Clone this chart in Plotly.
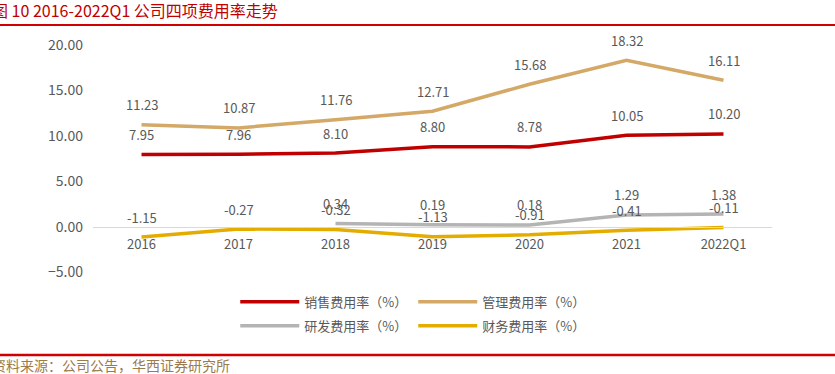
import plotly.graph_objects as go

categories = ["2016", "2017", "2018", "2019", "2020", "2021", "2022Q1"]
sales = [7.95, 7.96, 8.10, 8.80, 8.78, 10.05, 10.20]
management = [11.23, 10.87, 11.76, 12.71, 15.68, 18.32, 16.11]
rnd = [None, None, 0.34, 0.19, 0.18, 1.29, 1.38]
finance = [-1.15, -0.27, -0.32, -1.13, -0.91, -0.41, -0.11]

names = ["销售费用率（%）", "管理费用率（%）", "研发费用率（%）", "财务费用率（%）"]
colors = ["#C00000", "#D4A866", "#B4B4B4", "#E5AC00"]
legends = ["legend", "legend", "legend2", "legend2"]
series = [sales, management, rnd, finance]

FONT = "Noto Sans CJK SC"
GRAY = "#595959"

fig = go.Figure()
for name, vals, col, lg in zip(names, series, colors, legends):
    fig.add_trace(go.Scatter(
        x=categories, y=vals, name=name, mode="lines",
        line=dict(color=col, width=3.5), legend=lg, hoverinfo="skip",
        connectgaps=False,
    ))

annotations = []
for vals in series:
    for i, v in enumerate(vals):
        if v is None:
            continue
        annotations.append(dict(
            x=i, y=v, xref="x", yref="y", text=f"{v:.2f}", showarrow=False,
            yshift=20, font=dict(family=FONT, size=13, color=GRAY),
        ))

annotations.append(dict(
    xref="paper", yref="paper", x=-0.151, y=1.154, xanchor="left", yanchor="middle",
    text="图 10 2016-2022Q1 公司四项费用率走势", showarrow=False,
    font=dict(family=FONT, size=16, color="#C00000"),
))
annotations.append(dict(
    xref="paper", yref="paper", x=-0.151, y=-0.41, xanchor="left", yanchor="middle",
    text="资料来源：公司公告，华西证券研究所", showarrow=False,
    font=dict(family=FONT, size=14, color="#9C7A4B"),
))

shapes = [
    dict(type="line", xref="paper", yref="paper", x0=-0.2, x1=1.2, y0=1.088, y1=1.088,
         line=dict(color="#D00000", width=2)),
    dict(type="line", xref="paper", yref="paper", x0=-0.2, x1=1.2, y0=-0.366, y1=-0.366,
         line=dict(color="#D00000", width=2.5)),
]

fig.update_layout(
    width=835, height=374,
    margin=dict(l=93, r=63, t=45, b=102, autoexpand=False),
    paper_bgcolor="white", plot_bgcolor="white",
    font=dict(family=FONT, size=13, color=GRAY),
    showlegend=True,
    legend=dict(orientation="h", x=0.2095, y=-0.065, xanchor="left", yanchor="top",
                font=dict(family=FONT, size=13, color=GRAY),
                itemwidth=59, entrywidth=104, entrywidthmode="pixels",
                bgcolor="rgba(0,0,0,0)"),
    legend2=dict(orientation="h", x=0.2095, y=-0.171, xanchor="left", yanchor="top",
                 font=dict(family=FONT, size=13, color=GRAY),
                 itemwidth=59, entrywidth=104, entrywidthmode="pixels",
                 bgcolor="rgba(0,0,0,0)"),
    annotations=annotations,
    shapes=shapes,
    xaxis=dict(type="category", range=[-0.5, 6.5], anchor="free", position=0.2,
               showline=True, linecolor="#D9D9D9", linewidth=1, showgrid=False,
               ticks="", ticklabelstandoff=6,
               tickfont=dict(family=FONT, size=13, color=GRAY),
               zeroline=False, fixedrange=True),
    yaxis=dict(range=[-5, 20], dtick=5, tickformat=".2f", showgrid=False,
               zeroline=False, showline=False, ticks="", ticklabelstandoff=9,
               tickfont=dict(family=FONT, size=14, color=GRAY), fixedrange=True),
)

fig.write_html("out.html", config={"displayModeBar": False},
               post_script="document.body.style.margin='0';")
